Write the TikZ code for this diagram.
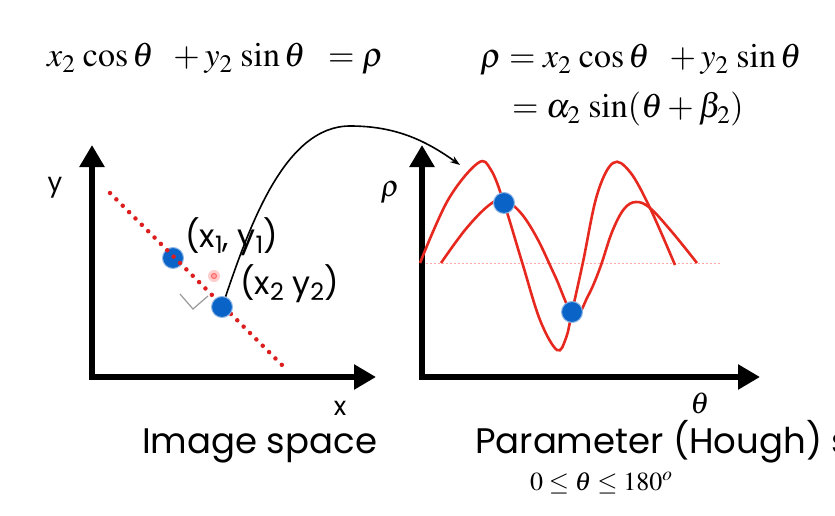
\documentclass[tikz,border=0pt]{standalone}
\usepackage{mathptmx}
\usepackage[no-math]{fontspec}
\setsansfont{Poppins}
\usetikzlibrary{arrows.meta, positioning, calc}
\definecolor{dotblue}{RGB}{10,100,200}
\definecolor{curvered}{RGB}{230,40,30}
\definecolor{linered}{RGB}{220,30,30}
\newcommand{\lowidx}[1]{\raisebox{-0.35ex}{\fontsize{24}{26}\selectfont #1}}

\begin{document}
\begin{tikzpicture}[
    x=1pt, y=-1pt,
    axis/.style={line width=6pt, line cap=rect, -{Triangle[length=22pt,width=24pt]}},
    hough/.style={curvered, line width=2.6pt},
    hit/.style={circle, fill=dotblue, draw=dotblue!45, line width=1pt,
        inner sep=0pt, minimum size=21pt},
    eqn/.style={inner sep=0pt, anchor=base west, font=\fontsize{34}{40}\selectfont},
    lbl/.style={inner sep=0pt, anchor=base west, font=\sffamily\fontsize{32}{36}\selectfont},
    caption/.style={inner sep=0pt, anchor=base west, font=\sffamily\fontsize{35.5}{40}\selectfont},
    link/.style={line width=1.6pt, -{Stealth[length=10pt,width=7pt]}}
]
\useasboundingbox (0,0) rectangle (835,516);
\clip (0,0) rectangle (835,516);
\fill[white] (0,0) rectangle (835,516);

% equations
\node[eqn] (eqleft) at (47,67) {$x_2\,\cos\theta\;\;+y_2\,\sin\theta\;\;=\rho$};
\node[eqn] (eqrho) at (480,68) {$\rho=x_2\,\cos\theta\;\;+y_2\,\sin\theta$};
\node[eqn] (eqsin) at (512,118) {$=\alpha_2\,\sin(\theta+\beta_2)$};

% image space
\coordinate (o1) at (92,377);
\coordinate (ytip1) at (92,145);
\coordinate (xtip1) at (376,377);
\draw[axis] (o1) -- (ytip1);
\draw[axis] (o1) -- (xtip1);
\node[font=\sffamily\fontsize{26}{30}\selectfont] (ylbl) at (55,188) {y};
\node[font=\sffamily\fontsize{26}{30}\selectfont] (xlbl) at (340,408) {x};

\node[hit] (dota) at (173,258) {};
\coordinate (lstart) at (110,193);
\coordinate (lend) at (285,368);
\draw[linered, line width=4.5pt, line cap=round, dash pattern=on 0pt off 9pt] (lstart) -- (lend);
\node[hit] (dotb) at (222,307) {};
\node[circle, fill=red!20, inner sep=0pt, minimum size=12pt] (ghost) at (214,276) {};
\node[circle, draw=red!60, fill=red!35, line width=1pt, inner sep=0pt, minimum size=5pt] at (ghost) {};
\draw[gray!80, line width=1.2pt] (180,294) -- (193,309) -- (208,296);

\node[lbl] (albl) at (185,247) {(x\lowidx{1}, y\lowidx{1})};
\node[lbl] (blbl) at (240,294) {(x\lowidx{2} y\lowidx{2})};
\node[caption] (imgcap) at (142,453) {Image space};

% parameter space
\coordinate (o2) at (422,377);
\coordinate (ytip2) at (422,145);
\coordinate (xtip2) at (760,377);
\coordinate (rho0) at (422,263);
\coordinate (rhoend) at (720,263);
\draw[red!35, line width=1pt, dash pattern=on 2pt off 2pt] (rho0) -- (rhoend);
\draw[axis] (o2) -- (ytip2);
\draw[axis] (o2) -- (xtip2);
\node[font=\fontsize{30}{34}\selectfont] (rholbl) at (390,193) {$\rho$};
\node[font=\fontsize{30}{34}\selectfont] (thlbl) at (700,403) {$\theta$};

\draw[hough] plot[smooth, tension=0.6] coordinates {(420,263) (448,200) (478,163)
    (491,170) (504,203) (522,262) (540,320) (557,350) (566,338) (572,312) (583,262)
    (597,195) (613,163) (630,172) (650,208) (675,265)};
\draw[hough] plot[smooth, tension=0.6] coordinates {(441,263) (465,230) (488,206)
    (503,200) (520,212) (537,238) (555,276) (574,316) (588,296) (600,268) (612,232)
    (624,209) (636,202) (650,208) (672,232) (697,263)};
\node[hit] (cross1) at (504,203) {};
\node[hit] (cross2) at (572,312) {};

\node[caption] (parcap) at (475,453) {Parameter (Hough) space};
\node[inner sep=0pt, anchor=base west, font=\fontsize{26}{30}\selectfont] (range) at (530,490)
    {$0\le\theta\le180^{o}$};

% mapping
\coordinate (archtop) at (350,126);
\coordinate (archend) at (460,165);
\draw[link] (dotb) .. controls (250,225) and (285,126) .. (archtop)
    .. controls (395,126) and (425,140) .. (archend);
\end{tikzpicture}
\end{document}
